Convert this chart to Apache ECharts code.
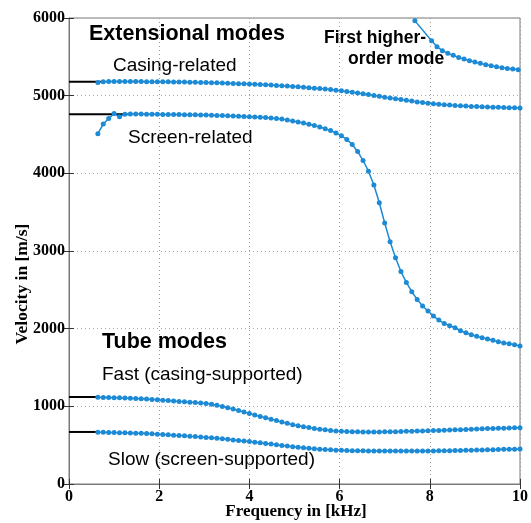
<!DOCTYPE html>
<html><head><meta charset="utf-8">
<script src="https://cdn.jsdelivr.net/npm/echarts@6/dist/echarts.min.js"></script>
<style>html,body{margin:0;padding:0;background:#fff}#c{width:531px;height:523px}</style>
</head><body><div id="c"></div>
<script>
// ---- data ----
const freq = [0.64,0.76,0.88,1.00,1.12,1.24,1.36,1.48,1.60,1.72,1.84,1.96,2.08,2.20,2.32,2.44,2.56,2.68,2.80,2.92,
  3.04,3.16,3.28,3.40,3.52,3.64,3.76,3.88,4.00,4.12,4.24,4.36,4.48,4.60,4.72,4.84,4.96,5.08,5.20,5.32,
  5.44,5.56,5.68,5.80,5.92,6.04,6.16,6.28,6.40,6.52,6.64,6.76,6.88,7.00,7.12,7.24,7.36,7.48,7.60,7.72,
  7.84,7.96,8.08,8.20,8.32,8.44,8.56,8.68,8.80,8.92,9.04,9.16,9.28,9.40,9.52,9.64,9.76,9.88,10.00];
const casingRelated = [5168,5180,5182,5182,5182,5182,5182,5181,5181,5180,5180,5179,5179,5178,5177,5176,5175,5174,5172,5171,
  5169,5167,5165,5163,5161,5158,5155,5152,5149,5146,5143,5140,5136,5132,5128,5124,5119,5114,5109,5103,
  5097,5091,5085,5078,5070,5062,5053,5044,5034,5024,5014,5003,4992,4981,4970,4960,4950,4940,4930,4920,
  4911,4903,4896,4890,4884,4879,4874,4870,4866,4862,4859,4856,4854,4852,4850,4848,4846,4844,4842];
const screenRelated = [4510,4635,4705,4770,4728,4762,4765,4764,4763,4762,4761,4760,4759,4758,4757,4756,4755,4754,4753,4751,
  4750,4748,4746,4744,4741,4738,4735,4732,4729,4726,4722,4718,4713,4706,4698,4688,4675,4662,4647,4632,
  4615,4597,4575,4550,4520,4483,4437,4372,4282,4165,4028,3850,3622,3360,3119,2913,2735,2596,2476,2377,
  2291,2227,2163,2111,2068,2038,2012,1973,1948,1922,1901,1883,1867,1850,1832,1815,1806,1793,1776];
const tubeFast = [1116,1115,1114,1112,1110,1108,1105,1102,1098,1094,1089,1084,1079,1074,1069,1063,1058,1053,1048,1043,
  1038,1027,1014,998,982,965,947,928,908,889,870,852,834,816,798,781,764,750,738,726,
  715,705,697,689,683,678,675,673,672,671,671,671,671,672,673,674,676,678,680,682,
  684,686,688,690,692,694,697,699,702,705,708,710,713,715,717,719,721,723,724];
const tubeSlow = [666,665,664,662,661,659,657,655,652,649,646,642,638,634,629,625,620,615,610,605,
  600,594,588,582,575,568,561,553,546,538,530,522,514,505,496,488,480,473,467,461,
  455,449,444,440,436,433,431,429,428,427,426,425,425,424,424,424,424,424,424,424,
  425,425,426,427,428,429,431,432,434,436,437,439,441,442,444,446,447,449,450];
const freqHigher = [7.67,8.04,8.16,8.28,8.40,8.52,8.64,8.76,8.88,9.00,9.12,9.24,9.36,9.48,9.60,9.72,9.84,9.96];
const higherMode = [5963,5707,5630,5579,5545,5519,5493,5471,5450,5433,5416,5398,5385,5373,5360,5351,5342,5333];
// low-frequency limits (short black lines): [x end, velocity]
const limitEnds = [0.72, 1.30, 0.65, 0.65];
const limitVels = [5180, 4760, 1120, 670];

const BLUE = '#1C8AD4';
function pairs(xs, ys){ return xs.map((x,i)=>[x, ys[i]]); }
function curve(name, xs, ys){
  return {name, type:'line', data:pairs(xs,ys), xAxisIndex:0, yAxisIndex:0,
    symbol:'circle', symbolSize:5, showSymbol:true,
    lineStyle:{color:BLUE,width:1.5}, itemStyle:{color:BLUE}, z:3, silent:true, animation:false};
}
const series = [
  curve('Casing-related', freq, casingRelated),
  curve('Screen-related', freq, screenRelated),
  curve('Fast', freq, tubeFast),
  curve('Slow', freq, tubeSlow),
  curve('First higher-order mode', freqHigher, higherMode)
];
limitEnds.forEach((xe,i)=>{
  series.push({type:'line', data:[[0,limitVels[i]],[xe,limitVels[i]]], symbol:'none',
    lineStyle:{color:'#000',width:2}, z:2, silent:true, animation:false});
});

const serif = '"Liberation Serif","Times New Roman",serif';
const sans = '"Liberation Sans",Arial,sans-serif';
function txt(x,y,s,size,bold){
  return {type:'text', x, y, silent:true, style:{text:s, fill:'#000',
    font:(bold?'bold ':'')+size+'px '+sans, textVerticalAlign:'middle', textAlign:'left'}};
}
const plain = v => String(v);

const chart = echarts.init(document.getElementById('c'), null, {renderer:'canvas'});
chart.setOption({
  animation:false,
  backgroundColor:'#fff',
  grid:{left:69, right:9, top:18, bottom:39, show:true, borderColor:'#7a7a7a', borderWidth:1, backgroundColor:'transparent'},
  xAxis:[
    {type:'value', min:0, max:10, interval:2, position:'bottom',
     axisLine:{show:true, onZero:false, lineStyle:{color:'#7a7a7a'}},
     axisTick:{show:true, inside:true, length:5, lineStyle:{color:'#333'}},
     axisLabel:{color:'#000', fontFamily:serif, fontWeight:'bold', fontSize:16, margin:5, formatter:plain},
     splitLine:{show:true, lineStyle:{color:'#9a9a9a', type:[1,3], width:1}}},
    {type:'value', min:0, max:10, interval:2, position:'top',
     axisLine:{show:false}, axisTick:{show:true, inside:true, length:5, lineStyle:{color:'#333'}},
     axisLabel:{show:false}, splitLine:{show:false}}
  ],
  yAxis:[
    {type:'value', min:0, max:6000, interval:1000, position:'left',
     axisLine:{show:true, onZero:false, lineStyle:{color:'#7a7a7a'}},
     axisTick:{show:true, inside:true, length:5, lineStyle:{color:'#333'}},
     axisLabel:{color:'#000', fontFamily:serif, fontWeight:'bold', fontSize:16, margin:4, formatter:plain},
     splitLine:{show:true, lineStyle:{color:'#a8a8a8', type:[1,3], width:1}}},
    {type:'value', min:0, max:6000, interval:1000, position:'right',
     axisLine:{show:false}, axisTick:{show:true, inside:true, length:5, lineStyle:{color:'#333'}},
     axisLabel:{show:false}, splitLine:{show:false}}
  ],
  series: series,
  graphic:[
    txt(89,34,'Extensional modes',21.5,true),
    txt(113,66,'Casing-related',19,false),
    txt(128,138,'Screen-related',19,false),
    txt(324,38.5,'First higher-',17.5,true),
    txt(348,59,'order mode',17.5,true),
    txt(102,342,'Tube modes',21.5,true),
    txt(102,375,'Fast (casing-supported)',19,false),
    txt(108,460,'Slow (screen-supported)',19,false),
    {type:'text', x:296, y:512, silent:true, style:{text:'Frequency in [kHz]', fill:'#000',
      font:'bold 17px '+serif, textAlign:'center', textVerticalAlign:'middle'}},
    {type:'text', x:22, y:284, rotation:Math.PI/2, silent:true, style:{text:'Velocity in [m/s]', fill:'#000',
      font:'bold 17.5px '+serif, textAlign:'center', textVerticalAlign:'middle'}}
  ]
});
</script></body></html>
